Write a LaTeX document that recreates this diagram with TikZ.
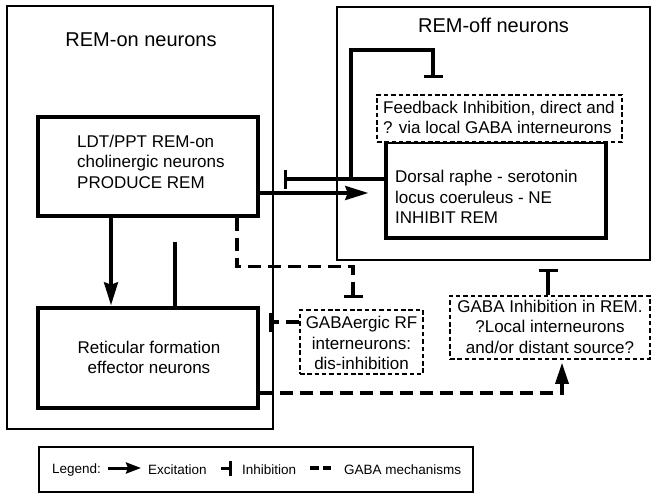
\documentclass[tikz,border=0pt]{standalone}
\usepackage{fontspec}
\setmainfont{Liberation Sans}
\usetikzlibrary{arrows.meta,calc}
\begin{document}
\begin{tikzpicture}[x=1pt,y=-1pt,
  outerbox/.style={draw,line width=2pt,inner sep=0pt},
  thickbox/.style={draw,line width=3.5pt,inner sep=0pt},
  dashbox/.style={draw,line width=1.5pt,dash pattern=on 4.5pt off 2.8pt,inner sep=0pt},
  titletext/.style={font=\fontsize{20}{24}\selectfont,inner sep=0pt},
  boxtext/.style={font=\fontsize{17}{20.5}\selectfont,inner sep=0pt},
  legtext/.style={font=\fontsize{13.5}{16}\selectfont,inner sep=0pt,anchor=west},
  exc/.style={line width=3.3pt,-{Stealth[length=23pt,width=14pt,inset=2.5pt]}},
  inh/.style={line width=3.3pt,-{Bar[width=19pt]}},
  gaba/.style={line width=3.3pt,dash pattern=on 13pt off 7pt},
  gabatri/.style={-{Triangle[length=21pt,width=13pt]}},
  plainline/.style={line width=3.3pt}
]
\useasboundingbox (0,0) rectangle (658,500);

% outer group boxes
\node[outerbox,minimum width=266pt,minimum height=423pt] (remon) at (140,217.5) {};
\node[outerbox,minimum width=313pt,minimum height=253pt] (remoff) at (493.5,133.5) {};
\node[titletext] (remontitle) at (141,40) {REM-on neurons};
\node[titletext] (remofftitle) at (493.5,25) {REM-off neurons};

% inner boxes
\node[thickbox,minimum width=220pt,minimum height=99pt] (ldt) at (148,166.5) {};
\node[boxtext,align=left,anchor=west] (ldttext) at (77,161.5)
  {LDT/PPT REM-on\\cholinergic neurons\\PRODUCE REM};

\node[thickbox,minimum width=220pt,minimum height=96pt] (drn) at (496,190) {};
\node[boxtext,align=left,anchor=west] (drntext) at (395,197)
  {Dorsal raphe - serotonin\\locus coeruleus - NE\\INHIBIT REM};

\node[dashbox,fill=white,minimum width=245pt,minimum height=47pt] (fb) at (499.5,118.5) {};
\node[boxtext,align=left,anchor=west] (fbtext) at (383,117.5)
  {Feedback Inhibition, direct and\\? via local GABA interneurons};

\node[thickbox,minimum width=220pt,minimum height=100pt] (ret) at (148,358) {};
\node[boxtext,align=center] (rettext) at (149,357.5)
  {Reticular formation\\effector neurons};

\node[dashbox,minimum width=123pt,minimum height=64pt] (gabarf) at (361.5,342) {};
\node[boxtext,align=center] (gabarftext) at (361.5,343)
  {GABAergic RF\\interneurons:\\dis-inhibition};

\node[dashbox,minimum width=200pt,minimum height=63pt] (gabarem) at (550,327.5) {};
\node[boxtext,align=center] (gabaremtext) at (550,326.5)
  {GABA Inhibition in REM.\\?Local interneurons\\and/or distant source?};

% connectors
\draw[exc,shorten >=16pt] ([yshift=-26.5pt]ldt.east) -- ([yshift=-26.5pt]ldt.east -| drn.west);
\draw[inh,shorten >=24pt] ([yshift=11pt]drn.west) -- ([yshift=11pt]drn.west -| ldt.east);
\coordinate (fbj) at (351,179);
\draw[inh,shorten >=16pt] (fbj) -- (351,50) -| ([xshift=-66.5pt]fb.north);

\draw[exc,shorten >=1pt] ([xshift=-37pt]ldt.south) -- ([xshift=-37pt]ret.north);
\coordinate (retup) at (175,242);
\draw[plainline] ([xshift=27pt]ret.north) -- (retup);

\draw[gaba,inh,shorten >=11pt] ([xshift=89pt]ldt.south) -- ++(0,49) -| ([xshift=-8.5pt]gabarf.north);
\draw[gaba,inh,shorten >=9pt] ([yshift=20pt]gabarf.west) -- ([yshift=20pt]gabarf.west -| ret.east);
\draw[gaba,gabatri,shorten >=3pt] ([yshift=-35pt]ret.east) -| ([xshift=12pt]gabarem.south);
\draw[inh,shorten >=8pt] ([xshift=-2pt]gabarem.north) -- ([xshift=-2pt]gabarem.north |- remoff.south);

% legend
\node[draw,line width=2pt,minimum width=434pt,minimum height=45pt] (legend) at (256,469.5) {};
\node[legtext] (legl) at (52,470) {Legend:};
\coordinate (la1) at (108,468);
\coordinate (la2) at (141,468);
\draw[line width=3pt,-{Stealth[length=15pt,width=11pt,inset=2pt]}] (la1) -- (la2);
\node[legtext] (lege) at (148,470) {Excitation};
\coordinate (li1) at (221,468);
\coordinate (li2) at (232,468);
\draw[line width=3pt,-{Bar[width=15pt]}] (li1) -- (li2);
\node[legtext] (legi) at (242,470) {Inhibition};
\coordinate (lg1) at (310,468);
\coordinate (lg2) at (331,468);
\draw[line width=3.3pt,dash pattern=on 8.5pt off 4pt] (lg1) -- (lg2);
\node[legtext] (legg) at (344,470) {GABA mechanisms};
\end{tikzpicture}
\end{document}
